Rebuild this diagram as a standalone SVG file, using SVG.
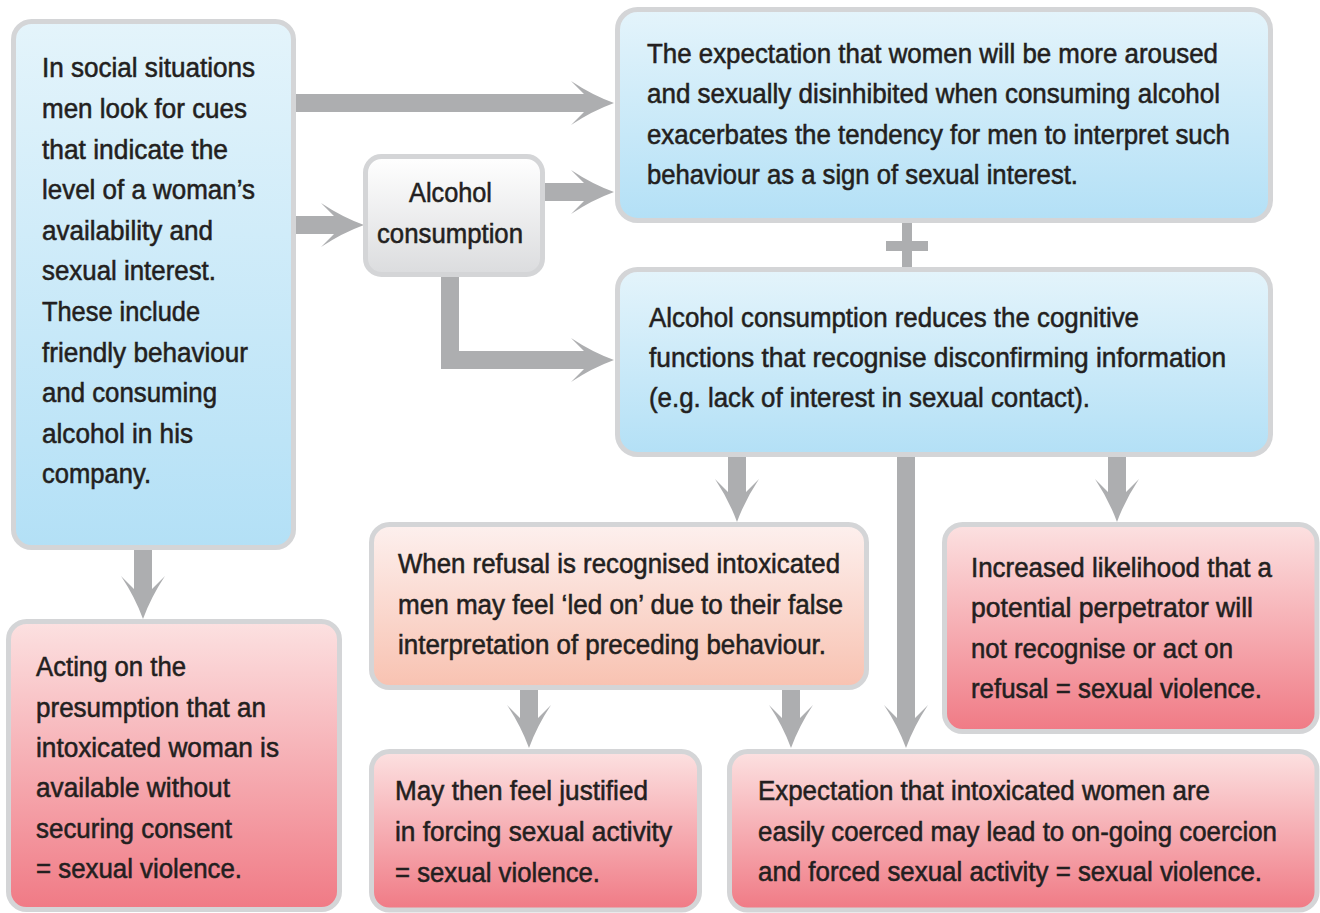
<svg xmlns="http://www.w3.org/2000/svg" xmlns:xlink="http://www.w3.org/1999/xlink" width="1320" height="913" viewBox="0 0 1320 913">
<defs>
<linearGradient id="gBlue" x1="0" y1="0" x2="0" y2="1"><stop offset="0" stop-color="#e4f4fb"/><stop offset="1" stop-color="#b3e0f6"/></linearGradient>
<linearGradient id="gPink" x1="0" y1="0" x2="0" y2="1"><stop offset="0" stop-color="#fce1e1"/><stop offset="1" stop-color="#f07a85"/></linearGradient>
<linearGradient id="gOrange" x1="0" y1="0" x2="0" y2="1"><stop offset="0" stop-color="#fdf0ee"/><stop offset="1" stop-color="#f8c2b1"/></linearGradient>
<linearGradient id="gGray" x1="0" y1="0" x2="0" y2="1"><stop offset="0" stop-color="#ffffff"/><stop offset="1" stop-color="#dbdcde"/></linearGradient>
<path id="ahR" d="M0,0 Q-22,-8 -43,-22 L-30,-9 L-30,9 L-43,22 Q-22,8 0,0 Z"/>
<path id="ahD" d="M0,0 Q-8,-22 -22,-43 L-9,-30 L9,-30 L22,-43 Q8,-22 0,0 Z"/>
<style>
.box{stroke:#d4d5d7;stroke-width:5}
.blue{fill:url(#gBlue)}
.pink{fill:url(#gPink)}
.orange{fill:url(#gOrange)}
.gray{fill:url(#gGray)}
text{font-family:"Liberation Sans",Arial,sans-serif;font-size:27.5px;fill:#231f20;stroke:#231f20;stroke-width:0.55px}
.shaft{fill:none;stroke:#adaeb0;stroke-width:18;stroke-linecap:butt;stroke-linejoin:miter}
.head{fill:#adaeb0}
</style>
</defs>

<g id="connectors">
<path class="shaft" d="M296,103 H584"/>
<use class="head" xlink:href="#ahR" href="#ahR" transform="translate(614,103)"/>
<path class="shaft" d="M296,225 H334"/>
<use class="head" xlink:href="#ahR" href="#ahR" transform="translate(364,225)"/>
<path class="shaft" d="M544,192 H584"/>
<use class="head" xlink:href="#ahR" href="#ahR" transform="translate(614,192)"/>
<path class="shaft" d="M450,276 V360 H584"/>
<use class="head" xlink:href="#ahR" href="#ahR" transform="translate(614,360)"/>
<path class="shaft" d="M737,456 V493"/>
<use class="head" xlink:href="#ahD" href="#ahD" transform="translate(737,522)"/>
<path class="shaft" d="M906,456 V719"/>
<use class="head" xlink:href="#ahD" href="#ahD" transform="translate(906,748)"/>
<path class="shaft" d="M1117,456 V493"/>
<use class="head" xlink:href="#ahD" href="#ahD" transform="translate(1117,522)"/>
<path class="shaft" d="M529,689 V719"/>
<use class="head" xlink:href="#ahD" href="#ahD" transform="translate(529,748)"/>
<path class="shaft" d="M791,689 V719"/>
<use class="head" xlink:href="#ahD" href="#ahD" transform="translate(791,748)"/>
<path class="shaft" d="M143,549 V590"/>
<use class="head" xlink:href="#ahD" href="#ahD" transform="translate(143,619)"/>
<g id="plus" fill="#adaeb0">
<rect x="902" y="222" width="10" height="46"/>
<rect x="886" y="241" width="42" height="10"/>
</g>
</g>

<g id="nodeA">
<rect class="box blue" x="13.5" y="21.5" width="280" height="526" rx="18"/>
<text x="42" y="77" textLength="213" lengthAdjust="spacingAndGlyphs">In social situations</text>
<text x="42" y="118" textLength="205" lengthAdjust="spacingAndGlyphs">men look for cues</text>
<text x="42" y="159" textLength="186" lengthAdjust="spacingAndGlyphs">that indicate the</text>
<text x="42" y="199" textLength="213" lengthAdjust="spacingAndGlyphs">level of a woman’s</text>
<text x="42" y="240" textLength="171" lengthAdjust="spacingAndGlyphs">availability and</text>
<text x="42" y="280" textLength="174" lengthAdjust="spacingAndGlyphs">sexual interest.</text>
<text x="42" y="321" textLength="158" lengthAdjust="spacingAndGlyphs">These include</text>
<text x="42" y="362" textLength="206" lengthAdjust="spacingAndGlyphs">friendly behaviour</text>
<text x="42" y="402" textLength="175" lengthAdjust="spacingAndGlyphs">and consuming</text>
<text x="42" y="443" textLength="151" lengthAdjust="spacingAndGlyphs">alcohol in his</text>
<text x="42" y="483" textLength="109" lengthAdjust="spacingAndGlyphs">company.</text>
</g>

<g id="nodeAlcohol">
<rect class="box gray" x="365.5" y="156.5" width="177" height="118" rx="16"/>
<text x="450.5" y="202" text-anchor="middle" textLength="83" lengthAdjust="spacingAndGlyphs">Alcohol</text>
<text x="450" y="243" text-anchor="middle" textLength="146" lengthAdjust="spacingAndGlyphs">consumption</text>
</g>

<g id="nodeB">
<rect class="box blue" x="617.5" y="9.5" width="653" height="211" rx="20"/>
<text x="647" y="63" textLength="571" lengthAdjust="spacingAndGlyphs">The expectation that women will be more aroused</text>
<text x="647" y="103" textLength="573" lengthAdjust="spacingAndGlyphs">and sexually disinhibited when consuming alcohol</text>
<text x="647" y="143.5" textLength="583" lengthAdjust="spacingAndGlyphs">exacerbates the tendency for men to interpret such</text>
<text x="647" y="184" textLength="431" lengthAdjust="spacingAndGlyphs">behaviour as a sign of sexual interest.</text>
</g>

<g id="nodeC">
<rect class="box blue" x="617.5" y="269.5" width="653" height="185" rx="20"/>
<text x="649" y="327" textLength="490" lengthAdjust="spacingAndGlyphs">Alcohol consumption reduces the cognitive</text>
<text x="649" y="367" textLength="577" lengthAdjust="spacingAndGlyphs">functions that recognise disconfirming information</text>
<text x="649" y="407" textLength="441" lengthAdjust="spacingAndGlyphs">(e.g. lack of interest in sexual contact).</text>
</g>

<g id="nodeD">
<rect class="box orange" x="371.5" y="524.5" width="495" height="163" rx="18"/>
<text x="398" y="573" textLength="442" lengthAdjust="spacingAndGlyphs">When refusal is recognised intoxicated</text>
<text x="398" y="614" textLength="445" lengthAdjust="spacingAndGlyphs">men may feel ‘led on’ due to their false</text>
<text x="398" y="654" textLength="428" lengthAdjust="spacingAndGlyphs">interpretation of preceding behaviour.</text>
</g>

<g id="nodeE">
<rect class="box pink" x="8.5" y="621.5" width="331" height="288" rx="18"/>
<text x="36" y="676" textLength="150" lengthAdjust="spacingAndGlyphs">Acting on the</text>
<text x="36" y="717" textLength="230" lengthAdjust="spacingAndGlyphs">presumption that an</text>
<text x="36" y="757" textLength="243" lengthAdjust="spacingAndGlyphs">intoxicated woman is</text>
<text x="36" y="797" textLength="194" lengthAdjust="spacingAndGlyphs">available without</text>
<text x="36" y="838" textLength="196" lengthAdjust="spacingAndGlyphs">securing consent</text>
<text x="36" y="878" textLength="206" lengthAdjust="spacingAndGlyphs">= sexual violence.</text>
</g>

<g id="nodeF">
<rect class="box pink" x="944.5" y="524.5" width="372.5" height="207" rx="18"/>
<text x="971" y="577" textLength="301" lengthAdjust="spacingAndGlyphs">Increased likelihood that a</text>
<text x="971" y="617" textLength="282" lengthAdjust="spacingAndGlyphs">potential perpetrator will</text>
<text x="971" y="658" textLength="262" lengthAdjust="spacingAndGlyphs">not recognise or act on</text>
<text x="971" y="698" textLength="291" lengthAdjust="spacingAndGlyphs">refusal = sexual violence.</text>
</g>

<g id="nodeG">
<rect class="box pink" x="371.5" y="751.5" width="328" height="158.5" rx="18"/>
<text x="395" y="800" textLength="253" lengthAdjust="spacingAndGlyphs">May then feel justified</text>
<text x="395" y="841" textLength="277" lengthAdjust="spacingAndGlyphs">in forcing sexual activity</text>
<text x="395" y="882" textLength="205" lengthAdjust="spacingAndGlyphs">= sexual violence.</text>
</g>

<g id="nodeH">
<rect class="box pink" x="729.5" y="751.5" width="587.5" height="158.5" rx="18"/>
<text x="758" y="800" textLength="452" lengthAdjust="spacingAndGlyphs">Expectation that intoxicated women are</text>
<text x="758" y="841" textLength="519" lengthAdjust="spacingAndGlyphs">easily coerced may lead to on-going coercion</text>
<text x="758" y="881" textLength="504" lengthAdjust="spacingAndGlyphs">and forced sexual activity = sexual violence.</text>
</g>
</svg>
